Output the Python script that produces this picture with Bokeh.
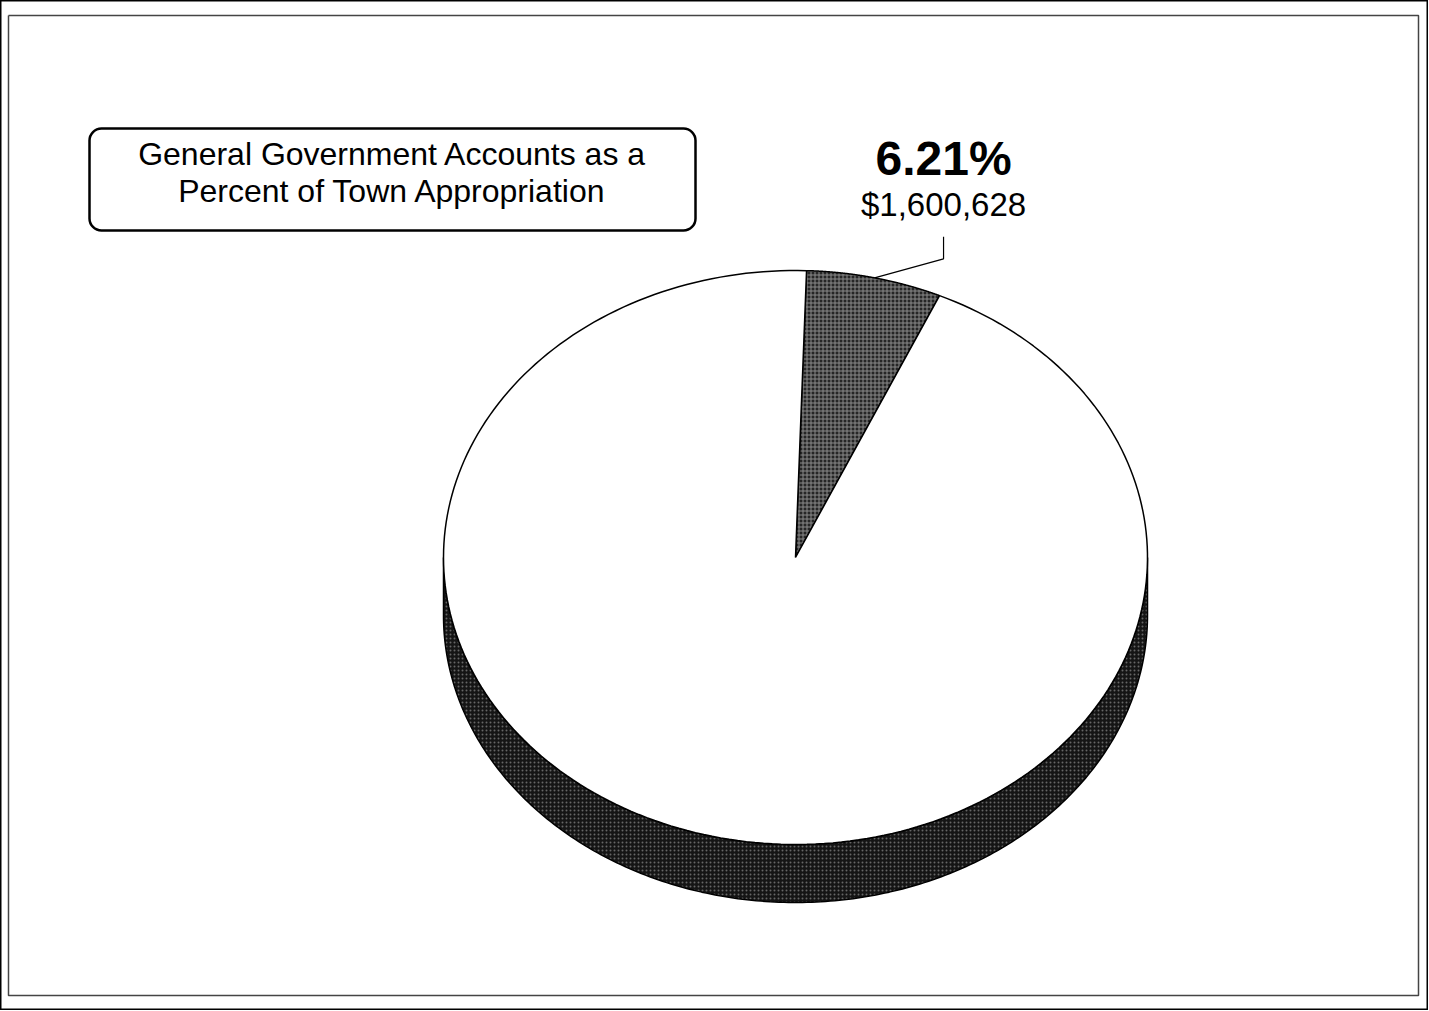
import numpy as np
from bokeh.plotting import figure
from bokeh.models import Range1d, BoxAnnotation
from bokeh.core.properties import value
from bokeh.embed import file_html
from bokeh.resources import INLINE

# ---- data ----
categories = ["General Government Accounts", "Rest of Town Appropriation"]
amounts = [1600628, 24174380]
pct_labels = ["6.21%"]
amount_labels = ["$1,600,628"]
title_lines = ["General Government Accounts as a", "Percent of Town Appropriation"]

W, H = 1428, 1010
p = figure(width=W, height=H, output_backend="svg", toolbar_location=None,
           x_range=Range1d(0, W), y_range=Range1d(H, 0))
p.axis.visible = False
p.grid.visible = False
p.outline_line_color = "black"
p.outline_line_width = 2
p.min_border = 0
p.background_fill_color = "white"

FONT = "Liberation Sans"

# inner frame
p.line(x=[8, 1418, 1418, 8, 8], y=[15, 15, 995, 995, 15], line_color="#444444", line_width=1.5)

# pie geometry (pixel space, y down)
cx, cy, a, b, depth = 795, 557, 352, 287, 58
start = np.deg2rad(1.8)
fr = np.array(amounts, dtype=float) / sum(amounts)
ang = np.concatenate([[0], np.cumsum(fr)]) * 2 * np.pi + start


def arc(t0, t1, n=240):
    t = np.linspace(t0, t1, n)
    return cx + a * np.sin(t), cy - b * np.cos(t)

# side band of large slice (front half)
tx, ty = arc(np.pi / 2, 3 * np.pi / 2)
sx = np.concatenate([tx, tx[::-1]])
sy = np.concatenate([ty, (ty + depth)[::-1]])
p.patch(sx, sy, fill_color="#151515", line_color="black", line_width=1.5,
        hatch_pattern="dot", hatch_color="#666666", hatch_scale=4, hatch_weight=1)

# top faces
for i in range(2):
    ax_, ay_ = arc(ang[i], ang[i + 1])
    xs = np.concatenate([[cx], ax_, [cx]])
    ys = np.concatenate([[cy], ay_, [cy]])
    if i == 0:
        p.patch(xs, ys, fill_color="#262626", line_color="black", line_width=1.5,
                hatch_pattern="+", hatch_color="#8a8a8a", hatch_scale=4, hatch_weight=1)
    else:
        p.patch(xs, ys, fill_color="white", line_color="black", line_width=1.5)

# leader line for small slice
mid = (ang[0] + ang[1]) / 2
mx, my = cx + a * np.sin(mid), cy - b * np.cos(mid)
ex, ey = mx + 69, my - 19
p.line([mx, ex, ex], [my, ey, ey - 22], line_color="black", line_width=1.2)

# labels
p.text(x=[ex], y=[158], text=pct_labels, text_align="center", text_baseline="alphabetic",
       text_font=value(FONT), text_font_size="48px", text_font_style="bold", text_color="black")
p.text(x=[ex], y=[204], text=amount_labels, text_align="center", text_baseline="alphabetic",
       text_font=value(FONT), text_font_size="33px", text_color="black")

# title box
p.add_layout(BoxAnnotation(left=89, right=695, top=128, bottom=230, fill_color="white", fill_alpha=1,
                           line_color="black", line_alpha=1, line_width=2.5, border_radius=12,
                           level="underlay"))
p.text(x=[392, 392], y=[153, 190], text=title_lines, text_align="center", text_baseline="alphabetic",
       text_font=value(FONT), text_font_size="32px", text_color="black")

open("out.html", "w").write(file_html(p, INLINE))
